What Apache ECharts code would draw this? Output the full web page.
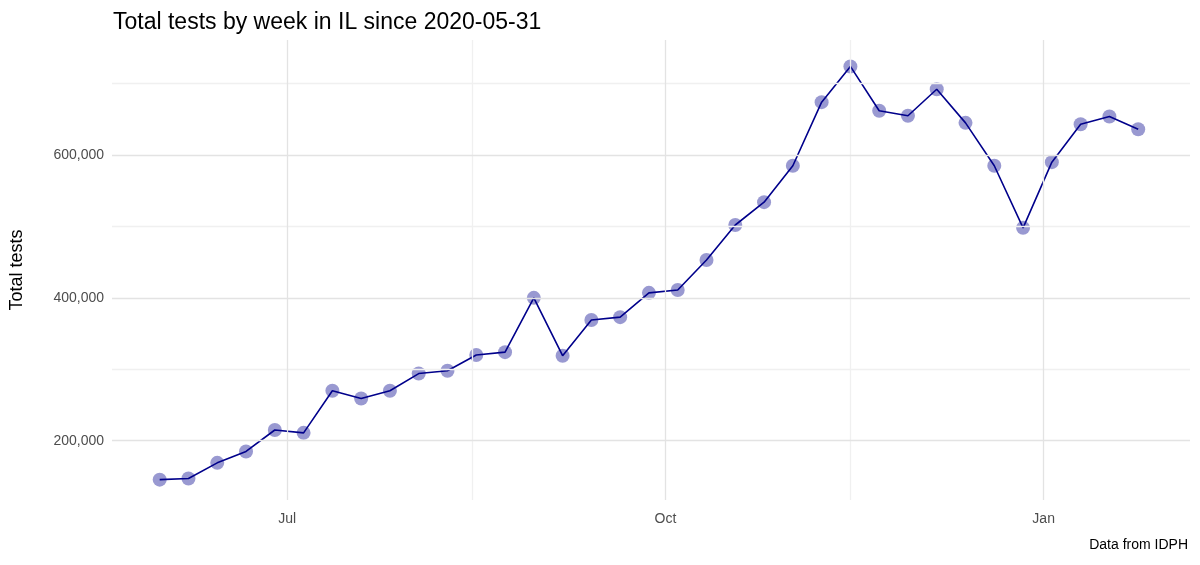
<!DOCTYPE html>
<html>
<head>
<meta charset="utf-8">
<script src="https://cdn.jsdelivr.net/npm/echarts@6/dist/echarts.min.js"></script>
<style>html,body{margin:0;padding:0;background:#fff}#chart{width:1200px;height:565px}</style>
</head>
<body>
<div id="chart"></div>
<script>
const startDate = "2020-05-31";
const weeklyTests = [145500, 147000, 169000, 185000, 215000, 211000, 270000, 259000, 270000, 294000,
  298000, 320000, 324000, 400000, 319000, 369000, 373000, 407000, 411000, 453000,
  502000, 534000, 585000, 674000, 724000, 662000, 655000, 692000, 645000, 585000,
  498000, 590000, 643000, 654000, 636000];
const majorTicks = ["2020-07-01", "2020-10-01", "2021-01-01"];
const minorTicks = ["2020-08-15", "2020-11-15"];
const yMajor = [200000, 400000, 600000];
const yMinor = [300000, 500000, 700000];

const DAY = 86400000;
const t0 = Date.parse(startDate + "T00:00:00Z");
const points = weeklyTests.map((v, i) => [t0 + i * 7 * DAY, v]);
const major = majorTicks.map((d) => Date.parse(d + "T00:00:00Z"));
const minor = minorTicks.map((d) => Date.parse(d + "T00:00:00Z"));
const monthNames = ["Jan", "Feb", "Mar", "Apr", "May", "Jun", "Jul", "Aug", "Sep", "Oct", "Nov", "Dec"];

const chart = echarts.init(document.getElementById("chart"));

function gridLines(xs, ys, color) {
  return {
    type: "line", data: [], silent: true,
    markLine: {
      silent: true, symbol: "none", label: { show: false }, animation: false,
      lineStyle: { color: color, width: 1.3, type: "solid" },
      data: xs.map((x) => ({ xAxis: x })).concat(ys.map((y) => ({ yAxis: y }))),
    },
  };
}

chart.setOption({
  animation: false,
  textStyle: { fontFamily: "Liberation Sans, Arial, sans-serif" },
  title: {
    text: "Total tests by week in IL since 2020-05-31",
    left: 108, top: 6,
    textStyle: { fontSize: 23, fontWeight: "normal", color: "#000" },
  },
  graphic: [{
    type: "text", right: 12, top: 538,
    style: { text: "Data from IDPH", fill: "#000", font: "14px Liberation Sans, Arial" },
  }],
  grid: { left: 110, right: 10, top: 40, bottom: 65 },
  xAxis: {
    type: "value",
    min: t0 - 11.6 * DAY,
    max: t0 + 250.6 * DAY,
    axisLine: { show: false },
    axisTick: { show: false },
    axisLabel: {
      customValues: major,
      color: "#4d4d4d", fontSize: 14, margin: 12,
      formatter: (v) => monthNames[new Date(v).getUTCMonth()],
    },
    splitLine: { show: false },
  },
  yAxis: {
    type: "value",
    min: 117000, max: 761000,
    name: "Total tests", nameLocation: "middle", nameGap: 86,
    nameTextStyle: { fontSize: 18, color: "#000" },
    axisLine: { show: false },
    axisTick: { show: false },
    axisLabel: {
      customValues: yMajor,
      color: "#4d4d4d", fontSize: 14,
      formatter: (v) => v.toLocaleString("en-US"),
    },
    splitLine: { show: false },
  },
  series: [
    gridLines(minor, yMinor, "#f0f0f0"),
    gridLines(major, yMajor, "#e3e3e3"),
    {
      type: "scatter", data: points, symbolSize: 14,
      itemStyle: { color: "rgba(0,0,139,0.4)", opacity: 1 },
    },
    {
      type: "line", data: points, showSymbol: false,
      lineStyle: { color: "#00008b", width: 1.6 },
    },
  ],
});
</script>
</body>
</html>
